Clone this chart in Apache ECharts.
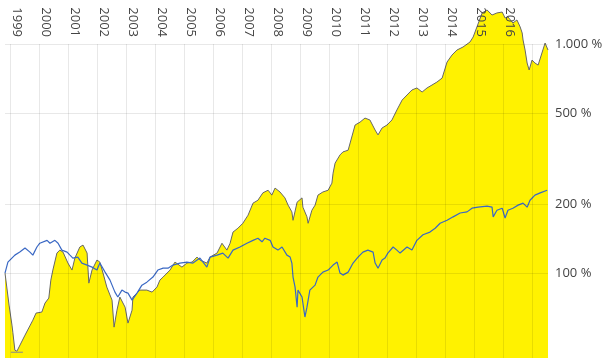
<!DOCTYPE html>
<html>
<head>
<meta charset="utf-8">
<style>
html,body{margin:0;padding:0;background:#fff;}
#chart{width:610px;height:358px;}
</style>
<script src="https://cdn.jsdelivr.net/npm/echarts@6/dist/echarts.min.js"></script>
</head>
<body>
<div id="chart"></div>
<script>
// x values are decimal years, y values are performance in %
const fundYears = [1998.83,1998.97,1999.07,1999.10,1999.17,1999.24,1999.52,1999.79,1999.90,2000.10,2000.21,2000.34,2000.41,2000.48,2000.62,2000.72,2000.83,2001.00,2001.14,2001.24,2001.41,2001.52,2001.66,2001.72,2001.83,2002.00,2002.10,2002.21,2002.34,2002.52,2002.59,2002.69,2002.79,2002.97,2003.07,2003.21,2003.24,2003.48,2003.72,2003.90,2004.07,2004.17,2004.28,2004.52,2004.69,2004.93,2005.10,2005.28,2005.45,2005.55,2005.79,2005.90,2006.14,2006.31,2006.48,2006.59,2006.69,2006.86,2007.03,2007.21,2007.38,2007.55,2007.72,2007.90,2008.03,2008.14,2008.31,2008.48,2008.59,2008.72,2008.76,2008.90,2009.07,2009.10,2009.24,2009.28,2009.41,2009.52,2009.62,2009.79,2009.97,2010.10,2010.14,2010.21,2010.38,2010.48,2010.66,2010.90,2011.07,2011.24,2011.41,2011.59,2011.69,2011.83,2012.00,2012.17,2012.34,2012.52,2012.69,2012.86,2013.03,2013.21,2013.38,2013.55,2013.72,2013.90,2014.07,2014.24,2014.41,2014.62,2014.86,2014.97,2015.10,2015.28,2015.45,2015.62,2015.79,2015.97,2016.07,2016.17,2016.34,2016.48,2016.59,2016.66,2016.69,2016.76,2016.83,2016.90,2017.00,2017.10,2017.21,2017.34,2017.45,2017.55];
const fundValues = [100,72.5,59.3,55.2,46.1,45.6,53.6,62.3,66.9,67.6,74,77.8,93.2,103.1,122.3,126,123.5,110.6,103.1,116.3,130,132.5,122.3,90.4,103.1,114,111.7,100,86.9,76.2,58.1,68.9,78.6,71,60.5,68.9,78.6,84.3,84.3,82.6,86.9,93.2,96.1,103.1,111.7,106.2,110.6,111.7,117.5,114,110.6,117.5,122.3,135,126,135,151,157,165,179,202,208,224,230,219,235,226,213,198,185,170,204,213,194,176,165,188,198,219,226,230,247,273,302,328,338,344,443,456,475,466,421,401,430,443,466,515,569,599,630,643,617,643,662,682,710,834,895,941,970,1020,1073,1187,1366,1408,1338,1366,1379,1299,1312,1235,1273,1187,1117,1041,941,826,770,851,826,809,913,1010,941];

const indexYears = [1998.83,1998.93,1999.17,1999.34,1999.52,1999.69,1999.79,1999.93,2000.03,2000.28,2000.38,2000.55,2000.66,2000.79,2000.97,2001.07,2001.17,2001.34,2001.48,2001.66,2001.83,2002.00,2002.10,2002.28,2002.45,2002.62,2002.72,2002.86,2002.97,2003.07,2003.21,2003.38,2003.55,2003.72,2003.93,2004.10,2004.28,2004.45,2004.62,2004.86,2005.10,2005.31,2005.55,2005.79,2005.90,2006.14,2006.34,2006.52,2006.69,2006.93,2007.17,2007.38,2007.55,2007.69,2007.79,2007.97,2008.07,2008.24,2008.38,2008.55,2008.66,2008.72,2008.76,2008.83,2008.90,2008.93,2009.07,2009.17,2009.24,2009.34,2009.52,2009.62,2009.79,2009.97,2010.14,2010.28,2010.38,2010.48,2010.66,2010.83,2011.00,2011.17,2011.34,2011.52,2011.59,2011.69,2011.83,2011.93,2012.03,2012.21,2012.34,2012.45,2012.69,2012.86,2013.03,2013.24,2013.48,2013.66,2013.83,2014.07,2014.28,2014.52,2014.76,2014.93,2015.14,2015.45,2015.62,2015.66,2015.79,2015.97,2016.07,2016.17,2016.34,2016.52,2016.69,2016.83,2016.93,2017.10,2017.28,2017.52];
const indexValues = [100,111.7,119.8,123.5,128.6,123.5,119.8,130,135,139,135,139,135,126,123.5,119.8,116.3,117.5,110.6,108.4,106.2,103.1,110.6,101,93.2,82.6,78.6,84.3,82.6,81.8,76.2,81.8,88.6,91.3,96.1,103.1,105.1,105.1,108.4,110.6,111.7,110.6,116.3,106.2,117.5,119.8,122.3,116.3,126,130,135,139,142,137,142,139,130,126,130,119.8,117.5,110.6,96.1,86.9,71,84.3,78.6,64.3,71,84.3,88.6,96.1,101,103.1,108.4,111.7,100,98,101,110.6,117.5,123.5,126,123.5,110.6,105.1,114,116.3,122.3,130,126,122.3,130,126,139,147,151,157,165,170,176,183,185,192,194,196,194,176,188,192,174,188,192,198,202,194,208,219,224,230];

const yearTicks = [1999,2000,2001,2002,2003,2004,2005,2006,2007,2008,2009,2010,2011,2012,2013,2014,2015,2016,2017];
const yearLabels = [1999,2000,2001,2002,2003,2004,2005,2006,2007,2008,2009,2010,2011,2012,2013,2014,2015,2016];
const pctTicks = [100,200,500,1000];

function zip(a,b){return a.map((v,i)=>[v,b[i]]);}
function fmtPct(v){
  const s = String(Math.round(v)).replace(/\B(?=(\d{3})+(?!\d))/g,'.');
  return s + ' %';
}

const chart = echarts.init(document.getElementById('chart'), null, {renderer:'canvas'});
const gridColor = 'rgba(0,0,0,0.09)';
chart.setOption({
  animation:false,
  grid:{left:5,right:62,top:44,bottom:0,containLabel:false},
  xAxis:{
    type:'value', position:'top', min:1998.83, max:2017.55, z:10,
    axisLine:{show:false}, axisTick:{show:false, customValues:yearTicks},
    splitLine:{show:true, lineStyle:{color:gridColor,width:1}},
    axisLabel:{customValues:yearLabels, rotate:90, margin:7, verticalAlign:'bottom',
      fontFamily:'Open Sans', fontSize:13, color:'#444', formatter:v=>String(v)}
  },
  yAxis:{
    type:'log', position:'right', min:42.6, max:1000, z:10,
    axisLine:{show:false}, axisTick:{show:false, customValues:pctTicks},
    splitLine:{show:true, lineStyle:{color:gridColor,width:1}},
    axisLabel:{customValues:pctTicks, margin:7, fontFamily:'Open Sans', fontSize:13, color:'#444', formatter:fmtPct}
  },
  series:[
    {type:'line', data:zip(fundYears,fundValues), showSymbol:false, clip:false, z:2,
      lineStyle:{color:'#666',width:1}, areaStyle:{color:'#fff200',opacity:1,origin:'start'},
      markPoint:{silent:true, symbol:'rect', symbolSize:[12,1], label:{show:false},
        itemStyle:{color:'#888'},
        data:[{type:'max', symbolOffset:[0,-3]},{type:'min', symbolOffset:[0,1]}]}},
    {type:'line', data:zip(indexYears,indexValues), showSymbol:false, clip:false, z:3,
      lineStyle:{color:'#3a68c4',width:1.2}}
  ]
});
</script>
</body>
</html>
